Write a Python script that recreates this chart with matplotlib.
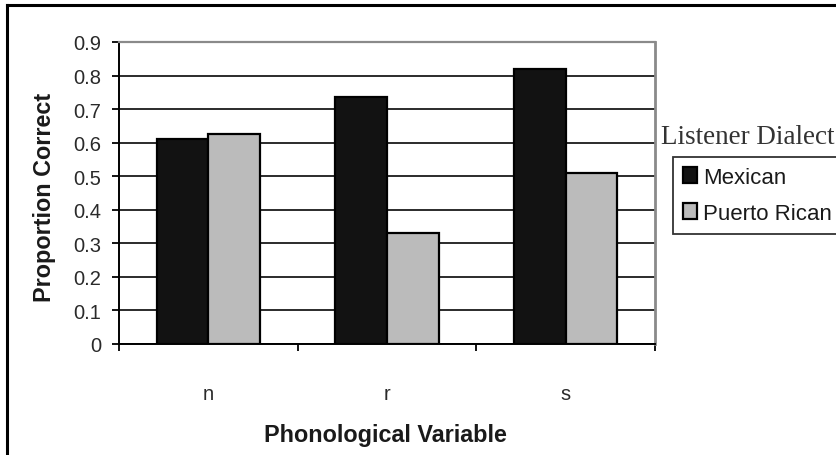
import matplotlib
matplotlib.use("Agg")
import matplotlib.pyplot as plt
from matplotlib.lines import Line2D
import numpy as np

categories = ["n", "r", "s"]
mexican = [0.61, 0.735, 0.82]
puerto_rican = [0.625, 0.33, 0.51]
series_names = ["Mexican", "Puerto Rican"]
yticks = [0, 0.1, 0.2, 0.3, 0.4, 0.5, 0.6, 0.7, 0.8, 0.9]
ytick_labels = ["0", "0.1", "0.2", "0.3", "0.4", "0.5", "0.6", "0.7", "0.8", "0.9"]

W, H = 837, 456
fig = plt.figure(figsize=(W / 100, H / 100), dpi=100)
fig.patch.set_facecolor("white")

ax = fig.add_axes([119 / W, 1 - 345 / H, (655 - 119) / W, (345 - 43) / H])

x = np.arange(len(categories)) + 0.5
bw = 0.29
b1 = ax.bar(x - bw / 2, mexican, bw, color="#121212", edgecolor="black", linewidth=1.6, zorder=3,
            label=series_names[0])
b2 = ax.bar(x + bw / 2, puerto_rican, bw, color="#bbbbbb", edgecolor="black", linewidth=1.6, zorder=3,
            label=series_names[1])

ax.set_xlim(0, 3)
ax.set_ylim(0, 0.9)
ax.set_yticks(yticks)
ax.set_yticklabels(ytick_labels)
ax.yaxis.grid(True, color="#1a1a1a", linewidth=1.3, zorder=1)
ax.set_axisbelow(True)

# category boundaries as major ticks, labels centred as minor ticks
ax.set_xticks([0, 1, 2, 3])
ax.set_xticklabels([])
ax.set_xticks(x, minor=True)
ax.set_xticklabels(categories, minor=True)
ax.tick_params(axis="x", which="major", direction="out", length=5, width=1.3, color="black")
ax.tick_params(axis="x", which="minor", length=0, pad=29, labelsize=14.5, labelcolor="#2a2a2a")
ax.tick_params(axis="y", direction="out", length=5, width=1.3, pad=8, labelsize=14.5,
               labelcolor="#2a2a2a", color="black")
for lab in ax.get_xticklabels(minor=True) + ax.get_yticklabels():
    lab.set_family("Liberation Sans")

ax.spines["left"].set_color("black")
ax.spines["left"].set_linewidth(1.4)
ax.spines["bottom"].set_color("black")
ax.spines["bottom"].set_linewidth(1.4)
ax.spines["top"].set_color("#8a8a8a")
ax.spines["top"].set_linewidth(1.6)
ax.spines["right"].set_color("#8a8a8a")
ax.spines["right"].set_linewidth(2.0)

ax.set_xlabel("Phonological Variable", fontsize=16.8, fontweight="bold", family="Liberation Sans",
              color="#1a1a1a")
ax.xaxis.set_label_coords((385 - 119) / 536, (345 - 436) / 302)
ax.xaxis.label.set_va("center")
ax.set_ylabel("Proportion Correct", fontsize=16.8, fontweight="bold", family="Liberation Sans",
              color="#1a1a1a")
ax.yaxis.set_label_coords((45 - 119) / 536, (345 - 197.5) / 302)
ax.yaxis.label.set_va("center")
ax.yaxis.label.set_ha("center")

# legend title (outside legend box)
fig.text(661 / W, 1 - 138 / H, "Listener Dialect", family="Liberation Serif", fontsize=19.5,
         color="#333333", ha="left", va="center")

leg = fig.legend(handles=[b1, b2], labels=series_names, loc="upper left",
                 bbox_to_anchor=(673 / W, 1 - 158 / H), borderaxespad=0,
                 prop={"family": "Liberation Sans", "size": 16}, frameon=True, fancybox=False,
                 handlelength=0.62, handleheight=0.72, handletextpad=0.3, borderpad=0.45,
                 labelspacing=0.68, edgecolor="black")
leg.get_frame().set_linewidth(1.3)
for t in leg.get_texts():
    t.set_color("#1a1a1a")

# outer frame (top and left visible)
fig.add_artist(Line2D([7 / W, 1], [1 - 6 / H, 1 - 6 / H], transform=fig.transFigure,
                      color="black", linewidth=2.2))
fig.add_artist(Line2D([7 / W, 7 / W], [0, 1 - 6 / H], transform=fig.transFigure,
                      color="black", linewidth=2.2))

fig.savefig("out.png", dpi=100, facecolor="white")
